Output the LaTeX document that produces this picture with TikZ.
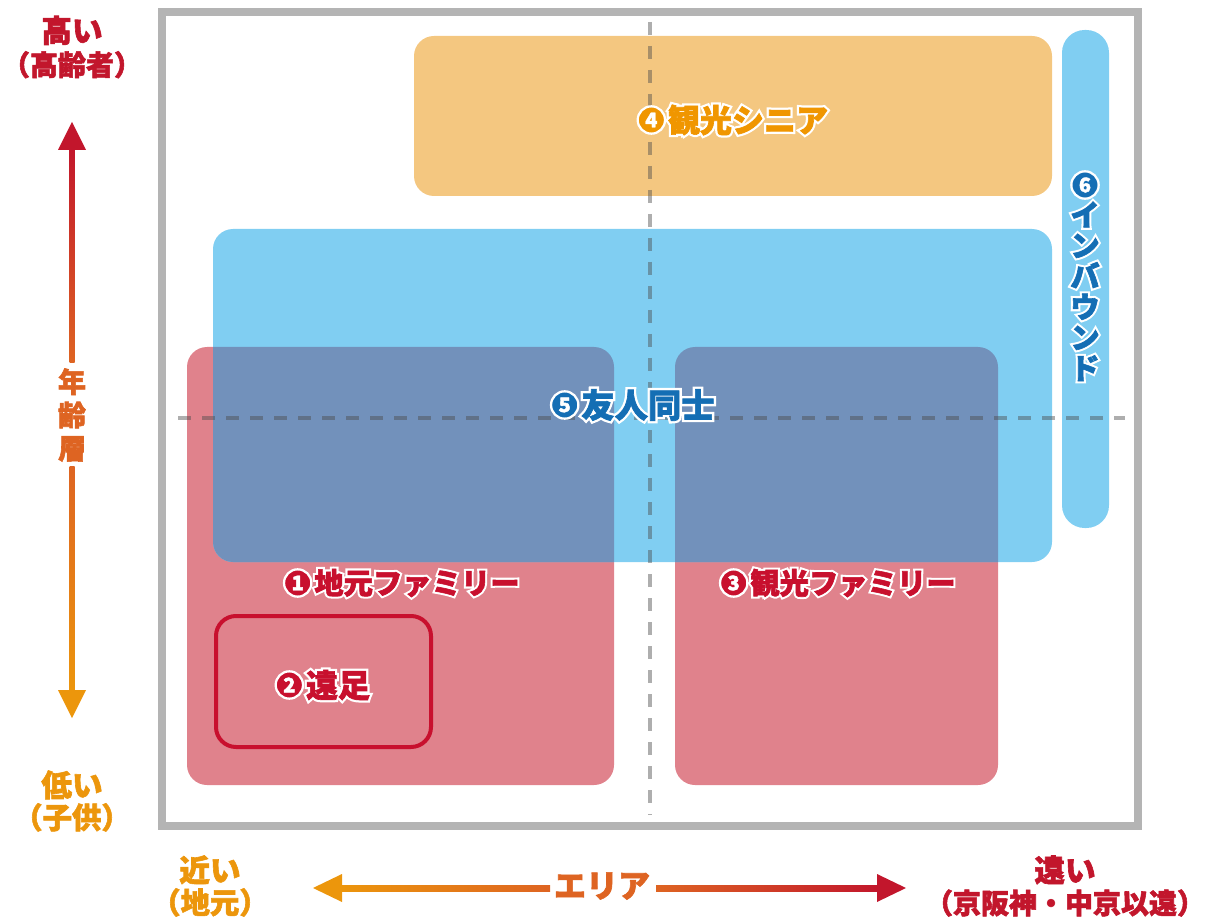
\documentclass[tikz,border=0pt]{standalone}
\usepackage{fontspec}
\setmainfont{Noto Sans CJK JP}
\newfontfamily\heavyfont{Noto Sans CJK JP}[FakeBold=2]
\newfontfamily\halofont{Noto Sans CJK JP}[FakeBold=16]
\newcommand\halo[1]{\rlap{\halofont\bfseries\color{white}#1}{\heavyfont\bfseries #1}}
\usetikzlibrary{positioning}

\definecolor{axred}{RGB}{194,22,44}
\definecolor{axmid}{RGB}{222,100,34}
\definecolor{axorange}{RGB}{236,150,12}
\definecolor{fillsenior}{RGB}{244,199,128}
\definecolor{fillfriends}{RGB}{128,206,242}
\definecolor{fillfamily}{RGB}{224,130,140}
\definecolor{filloverlap}{RGB}{114,145,187}
\definecolor{txtred}{RGB}{200,16,46}
\definecolor{txtblue}{RGB}{20,110,180}
\definecolor{txtorange}{RGB}{240,150,0}

\tikzset{every picture/.style={line width=0.75pt}}
\tikzset{
  zone/.style={rounded corners=15pt},
  guide/.style={draw=black!70,draw opacity=0.45,line width=3pt,dash pattern=on 10pt off 8pt},
  frame/.style={draw={rgb,255:red,180;green,180;blue,180},line width=6pt},
  grouplbl/.style={font=\fontsize{#1}{#1}\selectfont,inner sep=0pt},
  grouplbl/.default=22,
  axislbl/.style={font=\heavyfont\bfseries\fontsize{23}{24}\selectfont,inner sep=0pt,align=center},
  numdot/.style={circle,fill=#1,draw=white,line width=1.7pt,text=white,inner sep=0pt,
    minimum size=20.5pt,font=\heavyfont\bfseries\fontsize{15}{15}\selectfont},
}

\begin{document}
\begin{tikzpicture}[x=0.75pt,y=0.75pt,yscale=-1,xscale=1]
\useasboundingbox (0,0) rectangle (1208,920);

% Zones
\fill[zone,fillsenior] (414,36) rectangle (1052,196);
\fill[zone,fillfriends,rounded corners=17pt] (1062,30) rectangle (1109,528);
\fill[zone,fillfamily] (187,347) rectangle (614,785);
\fill[zone,fillfamily] (675,347) rectangle (998,785);
\fill[zone,fillfriends] (213,229) rectangle (1052,562);
\begin{scope}
  \clip[zone] (213,229) rectangle (1052,562);
  \fill[zone,filloverlap] (187,347) rectangle (614,785);
  \fill[zone,filloverlap] (675,347) rectangle (998,785);
\end{scope}
\draw[zone,txtred,line width=3pt] (216,616) rectangle (431,747);

% Guides and frame
\draw[guide] (650,22) -- (650,815);
\draw[guide] (178,418) -- (1125,418);
\draw[frame] (162,12) rectangle (1138,826);

% Group labels
\node[grouplbl=24,text=txtorange] (senior) at (748,120) {\halo{観光シニア}};
\node[numdot=txtorange,left=1pt of senior] (n4) {4};
\node[grouplbl=25,text=txtblue] (friends) at (648,405) {\halo{友人同士}};
\node[numdot=txtblue,left=1pt of friends] (n5) {5};
\node[grouplbl,text=txtred] (local) at (417,583) {\halo{地元ファミリー}};
\node[numdot=txtred,left=1pt of local] (n1) {1};
\node[grouplbl,text=txtred] (tourist) at (853,583) {\halo{観光ファミリー}};
\node[numdot=txtred,left=1pt of tourist] (n3) {3};
\node[grouplbl=24,text=txtred] (trip) at (338,685) {\halo{遠足}};
\node[numdot=txtred,left=1pt of trip] (n2) {2};
\node[numdot=txtblue] (n6) at (1085,185) {6};
\node[grouplbl,text=txtblue,align=center,font=\fontsize{22}{23}\selectfont,below=1pt of n6] (inbound)
  {\halo{イ}\\\halo{ン}\\\halo{バ}\\\halo{ウ}\\\halo{ン}\\\halo{ド}};

% Age axis
\node[axislbl,text=axred,font=\heavyfont\bfseries\fontsize{23}{25}\selectfont] (high) at (72,47)
  {高い\\\fontsize{21}{25}\selectfont（高齢者）};
\node[axislbl,text=axmid,font=\heavyfont\bfseries\fontsize{21}{25}\selectfont] (age) at (72,415) {年\\齢\\層};
\node[axislbl,text=axorange] (low) at (72,801) {低い\\\fontsize{22}{24}\selectfont（子供）};
\coordinate (agetop) at (72,122);
\coordinate (agebot) at (72,718);
\shade[top color=axred,bottom color=axmid] (69.5,146) rectangle (74.5,362);
\shade[top color=axmid,bottom color=axorange] (69.5,466) rectangle (74.5,694);
\fill[axred] (agetop) -- ++(-14,28) -- ++(28,0) -- cycle;
\fill[axorange] (agebot) -- ++(-14,-28) -- ++(28,0) -- cycle;

% Area axis
\node[axislbl,text=axorange] (near) at (210,886) {近い\\\fontsize{22}{24}\selectfont（地元）};
\node[axislbl,text=axmid,font=\heavyfont\bfseries\fontsize{24}{24}\selectfont] (area) at (602,886) {エリア};
\node[axislbl,text=axred] (far) at (1065,886) {遠い\\\fontsize{21}{24}\selectfont（京阪神・中京以遠）};
\coordinate (arealeft) at (313,888);
\coordinate (arearight) at (906,888);
\shade[left color=axorange,right color=axmid] (338,885) rectangle (550,891);
\shade[left color=axmid,right color=axred] (656,885) rectangle (880,891);
\fill[axorange] (arealeft) -- ++(29,-14) -- ++(0,28) -- cycle;
\fill[axred] (arearight) -- ++(-29,-14) -- ++(0,28) -- cycle;

\end{tikzpicture}
\end{document}
